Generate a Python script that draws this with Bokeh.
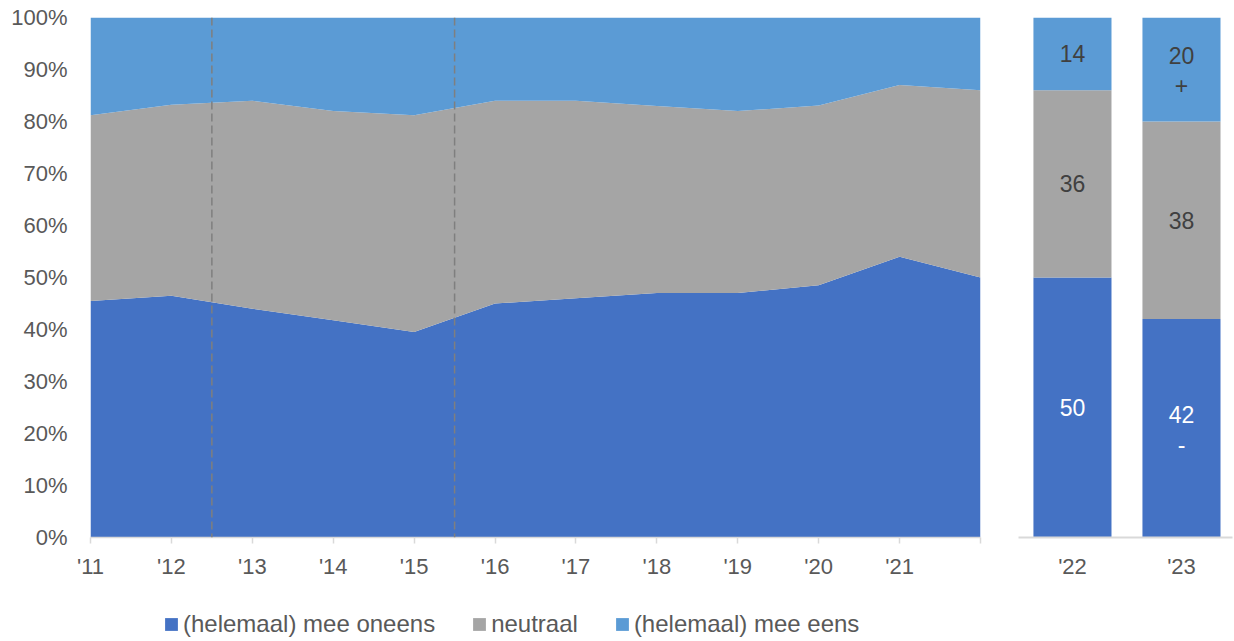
from bokeh.plotting import figure
from bokeh.models import Range1d, FixedTicker, Legend, LegendItem, Span, ColumnDataSource
from bokeh.core.properties import value
from bokeh.layouts import row, column
from bokeh.embed import file_html
from bokeh.resources import INLINE

# ---- data ----
years = [2011, 2012, 2013, 2014, 2015, 2016, 2017, 2018, 2019, 2020, 2021, 2022]
year_labels = ["'11", "'12", "'13", "'14", "'15", "'16", "'17", "'18", "'19", "'20", "'21", ""]
oneens = [45.5, 46.5, 44.0, 41.8, 39.5, 45.0, 46.0, 47.0, 47.0, 48.5, 54.0, 50.0]
neutraal = [35.7, 36.7, 40.0, 40.2, 41.7, 39.0, 38.0, 36.0, 35.0, 34.6, 33.0, 36.0]
eens = [18.8, 16.8, 16.0, 18.0, 18.8, 16.0, 16.0, 17.0, 18.0, 16.9, 13.0, 14.0]
divider_years = [2012.5, 2015.5]

bar_labels = ["'22", "'23"]
bar_oneens = [50, 42]
bar_neutraal = [36, 38]
bar_eens = [14, 20]
sign_oneens = ["", "-"]
sign_neutraal = ["", ""]
sign_eens = ["", "+"]

y_ticks = [0, 10, 20, 30, 40, 50, 60, 70, 80, 90, 100]
y_tick_labels = [f"{t}%" for t in y_ticks]

series_names = ["(helemaal) mee oneens", "neutraal", "(helemaal) mee eens"]
colors = ["#4472C4", "#A5A5A5", "#5B9BD5"]

FONT = "Liberation Sans"
TICK_COLOR = "#595959"

# ---- left: stacked area ----
c1 = oneens
c2 = [a + b for a, b in zip(oneens, neutraal)]
c3 = [a + b for a, b in zip(c2, eens)]
src = ColumnDataSource(dict(x=years, z=[0] * len(years), c1=c1, c2=c2, c3=c3))
layers = [("z", "c1"), ("c1", "c2"), ("c2", "c3")]

p = figure(frame_width=890, frame_height=520, x_range=Range1d(2011, 2022), y_range=Range1d(0, 100),
           output_backend="svg", toolbar_location=None,
           min_border_left=90, min_border_right=10, min_border_top=17, min_border_bottom=0)
p.outline_line_color = None
p.grid.visible = False

for (lo, hi), c in zip(layers, colors):
    p.varea(x="x", y1=lo, y2=hi, source=src, fill_color=c)

for xv in divider_years:
    p.add_layout(Span(location=xv, dimension="height", line_color="#7F7F7F",
                      line_dash="8 4", line_width=1.5))

xa = p.xaxis[0]
xa.ticker = FixedTicker(ticks=years)
xa.major_label_overrides = {y: l for y, l in zip(years, year_labels)}
xa.axis_line_color = "#D9D9D9"
xa.axis_line_width = 1.5
xa.major_tick_line_color = "#D9D9D9"
xa.major_tick_line_width = 1.5
xa.major_tick_out = 6
xa.major_tick_in = 0
xa.minor_tick_line_color = None
xa.major_label_standoff = 10
xa.major_label_text_font = FONT
xa.major_label_text_font_size = "22px"
xa.major_label_text_color = TICK_COLOR

ya = p.yaxis[0]
ya.ticker = FixedTicker(ticks=y_ticks)
ya.major_label_overrides = {t: l for t, l in zip(y_ticks, y_tick_labels)}
ya.axis_line_color = None
ya.major_tick_line_color = None
ya.minor_tick_line_color = None
ya.major_tick_out = 0
ya.major_tick_in = 0
ya.major_label_standoff = 23
ya.major_label_text_font = FONT
ya.major_label_text_font_size = "22px"
ya.major_label_text_color = TICK_COLOR

# ---- right: stacked bars ----
bx = list(range(len(bar_labels)))
b1 = bar_oneens
b2 = [a + b for a, b in zip(bar_oneens, bar_neutraal)]
b3 = [a + b for a, b in zip(b2, bar_eens)]
bsrc = ColumnDataSource(dict(x=bx, z=[0] * len(bx), b1=b1, b2=b2, b3=b3))

p2 = figure(frame_width=214, frame_height=520, x_range=Range1d(-0.495, 1.468), y_range=Range1d(0, 100),
            output_backend="svg", toolbar_location=None, y_axis_location=None,
            min_border_left=28, min_border_right=2, min_border_top=17, min_border_bottom=0)
p2.outline_line_color = None
p2.grid.visible = False

bw = 0.716
p2.vbar(x="x", bottom="z", top="b1", width=bw, source=bsrc, fill_color=colors[0], line_color=None)
p2.vbar(x="x", bottom="b1", top="b2", width=bw, source=bsrc, fill_color=colors[1], line_color=None)
p2.vbar(x="x", bottom="b2", top="b3", width=bw, source=bsrc, fill_color=colors[2], line_color=None)

tx, ty, tt, tc, toff = [], [], [], [], []
sx, sy, st, sc = [], [], [], []
for i in bx:
    segs = [(0, b1[i], bar_oneens[i], sign_oneens[i], "white"),
            (b1[i], b2[i], bar_neutraal[i], sign_neutraal[i], "#404040"),
            (b2[i], b3[i], bar_eens[i], sign_eens[i], "#404040")]
    for lo, hi, v, s, col in segs:
        mid = (lo + hi) / 2
        tx.append(i); ty.append(mid); tt.append(str(v)); tc.append(col)
        toff.append(-14 if s else 0)
        if s:
            sx.append(i); sy.append(mid); st.append(s); sc.append(col)

p2.text(x=tx, y=ty, text=tt, text_color=tc, y_offset=toff, text_align="center", text_baseline="middle",
        text_font=value(FONT), text_font_size=value("23px"))
p2.text(x=sx, y=sy, text=st, text_color=sc, y_offset=16, text_align="center", text_baseline="middle",
        text_font=value(FONT), text_font_size=value("23px"))

xa2 = p2.xaxis[0]
xa2.ticker = FixedTicker(ticks=bx)
xa2.major_label_overrides = {i: l for i, l in zip(bx, bar_labels)}
xa2.axis_line_color = "#D9D9D9"
xa2.axis_line_width = 2
xa2.major_tick_line_color = None
xa2.minor_tick_line_color = None
xa2.major_tick_out = 6
xa2.major_tick_in = 0
xa2.major_label_standoff = 10
xa2.major_label_text_font = FONT
xa2.major_label_text_font_size = "22px"
xa2.major_label_text_color = TICK_COLOR

# ---- legend strip (same series drawn out of view; only the legend shows) ----
pl = figure(width=1234, height=59, x_range=Range1d(0, 1), y_range=Range1d(0, 1),
            output_backend="svg", toolbar_location=None, x_axis_location=None, y_axis_location=None,
            min_border=0)
pl.outline_line_color = None
pl.grid.visible = False
leg_renderers = [pl.quad(left="x", right="x", bottom=lo, top=hi, source=src, fill_color=c, line_color=None)
                 for (lo, hi), c in zip(layers, colors)]
legend = Legend(items=[LegendItem(label=n, renderers=[r]) for n, r in zip(series_names, leg_renderers)],
                orientation="horizontal", location=(163, 2),
                border_line_color=None, background_fill_alpha=0, padding=0, margin=0,
                spacing=36, label_standoff=4, glyph_width=16, glyph_height=16,
                label_text_font=FONT, label_text_font_size="24px", label_text_color=TICK_COLOR)
pl.add_layout(legend, "center")

layout = column(row(p, p2, spacing=0), pl, spacing=0)
open("out.html", "w").write(file_html(layout, INLINE))
